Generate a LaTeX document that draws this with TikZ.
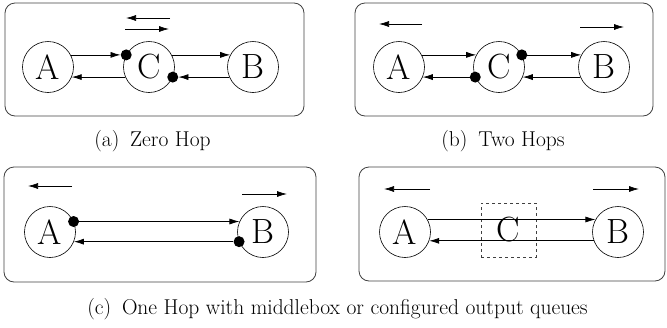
\documentclass[tikz,border=0pt]{standalone}
\usetikzlibrary{arrows.meta}
\begin{document}
\begin{tikzpicture}[x=1pt,y=-1pt,
  host/.style={draw,circle,minimum size=51pt,inner sep=0pt,line width=0.6pt,font=\fontsize{35}{35}\selectfont},
  frame/.style={draw=black!75,rounded corners=10pt,line width=0.8pt},
  link/.style={-{Latex[length=10pt,width=6pt]},line width=0.75pt},
  queue/.style={circle,fill=black,inner sep=0pt,minimum size=11pt},
  subcaption/.style={font=\fontsize{21.5}{21.5}\selectfont}]
\useasboundingbox (0,0) rectangle (667,327);

% ---------- (a) zero hop ----------
\draw[frame] (5,3) rectangle (304,116);
\node[host] (aA) at (48,67) {A};
\node[host] (aC) at (149,67) {C};
\node[host] (aB) at (253,67) {B};
\node[queue] (aq1) at (aC.152) {};
\node[queue] (aq2) at (aC.337) {};
\draw[link] (aA.28) -- (aq1);
\draw[link] (aC.203) -- (aA.337);
\draw[link] (aC.28) -- (aB.152);
\draw[link] (aB.203) -- (aq2);
\coordinate (at1) at (170,18); \coordinate (at2) at (126,18);
\coordinate (at3) at (125,29); \coordinate (at4) at (169,29);
\draw[link] (at1) -- (at2);
\draw[link] (at3) -- (at4);
\node[subcaption] (capa) at (152.5,141) {(a)\enspace Zero Hop};

% ---------- (b) two hops ----------
\draw[frame] (355,3) rectangle (653,116);
\node[host] (bA) at (399,67) {A};
\node[host] (bC) at (499,67) {C};
\node[host] (bB) at (604,67) {B};
\node[queue] (bq1) at (bC.203) {};
\node[queue] (bq2) at (bC.28) {};
\draw[link] (bA.28) -- (bC.152);
\draw[link] (bq1) -- (bA.337);
\draw[link] (bq2) -- (bB.152);
\draw[link] (bB.203) -- (bC.337);
\coordinate (bt1) at (422,24); \coordinate (bt2) at (379,24);
\coordinate (bt3) at (580,27); \coordinate (bt4) at (624,27);
\draw[link] (bt1) -- (bt2);
\draw[link] (bt3) -- (bt4);
\node[subcaption] (capb) at (503,141) {(b)\enspace Two Hops};

% ---------- (c) one hop, end-host queues ----------
\draw[frame] (4,167) rectangle (316,282);
\node[host] (cA) at (50,232) {A};
\node[host] (cB) at (263,232) {B};
\node[queue] (cq1) at (cA.24) {};
\node[queue] (cq2) at (cB.202) {};
\draw[link] (cq1) -- (cB.156);
\draw[link] (cq2) -- (cA.338);
\coordinate (ct1) at (72,186); \coordinate (ct2) at (28,186);
\coordinate (ct3) at (242,194); \coordinate (ct4) at (287,194);
\draw[link] (ct1) -- (ct2);
\draw[link] (ct3) -- (ct4);

% ---------- (c) one hop, middlebox ----------
\draw[frame] (359,167) rectangle (665,281);
\node[host] (dA) at (405,232) {A};
\node[host] (dB) at (618,232) {B};
\node[draw=black!75,dashed,line width=0.6pt,minimum width=55pt,minimum height=54pt,
      inner sep=0pt,font=\fontsize{35}{35}\selectfont] (dC) at (508.5,230) {C};
\draw[link] (dA.29) -- (dB.151);
\draw[link] (dB.200) -- (dA.340);
\coordinate (dt1) at (430,189); \coordinate (dt2) at (384,189);
\coordinate (dt3) at (593,189); \coordinate (dt4) at (639,189);
\draw[link] (dt1) -- (dt2);
\draw[link] (dt3) -- (dt4);

\node[subcaption] (capc) at (337.5,309) {(c)\enspace One Hop with middlebox or configured output queues};
\end{tikzpicture}
\end{document}
